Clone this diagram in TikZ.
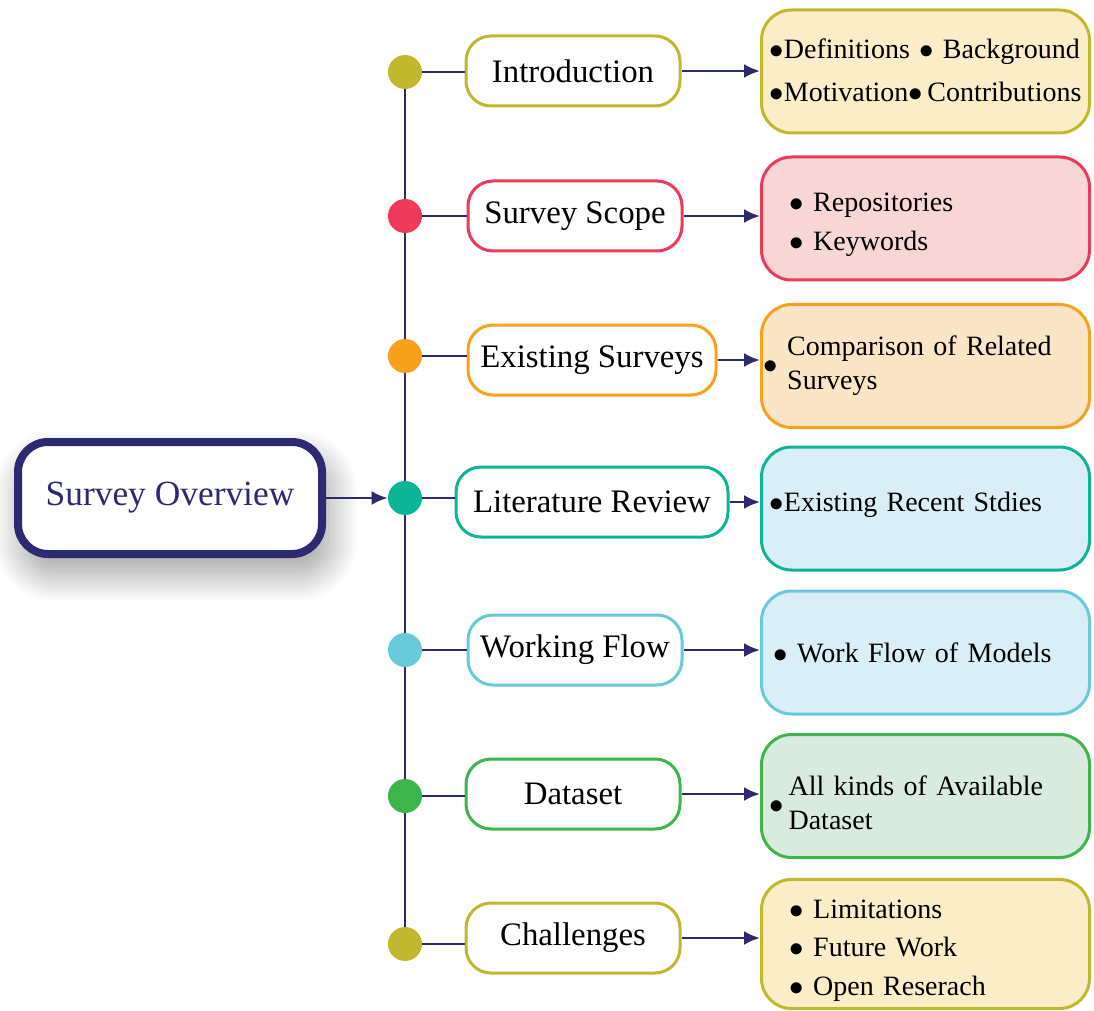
\documentclass[tikz,border=0pt]{standalone}
\usepackage{fontspec}
\setmainfont{Liberation Serif}
\usetikzlibrary{arrows.meta,shadows.blur,backgrounds}
\definecolor{navy}{RGB}{46,42,114}
\definecolor{olive}{RGB}{194,184,46}
\definecolor{rose}{RGB}{238,58,90}
\definecolor{amber}{RGB}{248,161,28}
\definecolor{teal}{RGB}{14,180,150}
\definecolor{sky}{RGB}{104,201,216}
\definecolor{leaf}{RGB}{62,181,74}
\definecolor{cream}{RGB}{250,237,200}
\definecolor{blush}{RGB}{248,214,214}
\definecolor{peach}{RGB}{251,229,199}
\definecolor{ice}{RGB}{217,238,246}
\definecolor{mint}{RGB}{216,235,222}
\newcommand{\bul}{$\bullet$}
\newcommand{\lines}[1]{\begin{tabular}{@{}l@{}}#1\end{tabular}}
\newcommand{\sinkby}[2]{\raisebox{-#1}[\height][\depth]{#2}}
\tikzset{
  mainbox/.style={draw=navy,line width=4pt,rounded corners=15pt,fill=white,
    minimum width=152pt,minimum height=56pt,text=navy,
    font=\fontsize{17.7}{21}\selectfont,
    blur shadow={shadow xshift=3pt,shadow yshift=-9pt,shadow blur radius=15pt,
      shadow blur steps=30,shadow opacity=40}},
  dot/.style={circle,fill=#1,minimum size=17pt,inner sep=0pt},
  topic/.style={draw=#1,line width=1.5pt,rounded corners=12.5pt,fill=white,
    minimum height=35pt,font=\fontsize{16.4}{20}\selectfont},
  detail/.style 2 args={draw=#1,fill=#2,line width=1.5pt,rounded corners=15pt,
    minimum height=61.5pt,text width=156pt,inner xsep=4pt,align=left,anchor=west,
    font=\fontsize{14}{17}\selectfont},
  link/.style={navy,line width=1.25pt},
  arr/.style={link,-{Latex[length=8pt,width=7pt]}}
}
\begin{document}
\begin{tikzpicture}[x=0.5pt,y=-0.5pt]
\useasboundingbox (0,0) rectangle (1094,1011);
% root
\node[mainbox] (overview) at (170,498) {Survey Overview};
% spine dots
\node[dot=olive] (d1) at (405,72) {};
\node[dot=rose] (d2) at (405,216) {};
\node[dot=amber] (d3) at (405,356) {};
\node[dot=teal] (d4) at (405,498) {};
\node[dot=sky] (d5) at (405,650) {};
\node[dot=leaf] (d6) at (405,796) {};
\node[dot=olive] (d7) at (405,944) {};
\begin{scope}[on background layer]
\draw[link] (d1) -- (d7);
\end{scope}
\draw[arr] (overview.east) -- (d4.west);
% topics
\node[topic=olive,minimum width=107pt] (t1) at (573,71) {Introduction};
\node[topic=rose,minimum width=107pt] (t2) at (575,216) {Survey Scope};
\node[topic=amber,minimum width=124pt] (t3) at (592,360) {Existing Surveys};
\node[topic=teal,minimum width=136pt] (t4) at (592,502) {Literature Review};
\node[topic=sky,minimum width=107pt] (t5) at (575,650) {Working Flow};
\node[topic=leaf,minimum width=107pt] (t6) at (573,794) {Dataset};
\node[topic=olive,minimum width=107pt] (t7) at (573,938) {Challenges};
% details
\node[detail={olive}{cream},font=\fontsize{14}{21.5}\selectfont] (x1) at (760,71.5)
  {\lines{\bul Definitions \bul\ Background\\\bul Motivation\bul\,Contributions}};
\node[detail={rose}{blush},font=\fontsize{14}{19.5}\selectfont] (x2) at (760,218.5)
  {\sinkby{2.5pt}{\lines{\hspace*{10pt}\bul\ Repositories\\\hspace*{10pt}\bul\ Keywords}}};
\node[detail={amber}{peach}] (x3) at (760,366)
  {\hspace*{-3pt}\bul\ \lines{Comparison of Related\\Surveys}};
\node[detail={teal}{ice}] (x4) at (760,508.5) {\sinkby{-2pt}{\bul Existing Recent Stdies}};
\node[detail={sky}{ice}] (x5) at (760,652.5) {\hspace*{2pt}\bul\ Work Flow of Models};
\node[detail={leaf}{mint}] (x6) at (760,796)
  {\sinkby{5pt}{\bul\,\lines{All kinds of Available\\Dataset}}};
\node[detail={olive}{cream},font=\fontsize{14}{19.3}\selectfont] (x7) at (760,944)
  {\sinkby{2.5pt}{\lines{\hspace*{10pt}\bul\ Limitations\\\hspace*{10pt}\bul\ Future Work\\\hspace*{10pt}\bul\ Open Reserach}}};
% connectors
\draw[link] (d1.east) -- (d1.east -| t1.west);
\draw[link] (d2.east) -- (d2.east -| t2.west);
\draw[link] (d3.east) -- (d3.east -| t3.west);
\draw[link] (d4.east) -- (d4.east -| t4.west);
\draw[link] (d5.east) -- (d5.east -| t5.west);
\draw[link] (d6.east) -- (d6.east -| t6.west);
\draw[link] (d7.east) -- (d7.east -| t7.west);
\draw[arr] (t1.east) -- (t1.east -| x1.west);
\draw[arr] (t2.east) -- (t2.east -| x2.west);
\draw[arr] (t3.east) -- (t3.east -| x3.west);
\draw[arr] (t4.east) -- (t4.east -| x4.west);
\draw[arr] (t5.east) -- (t5.east -| x5.west);
\draw[arr] (t6.east) -- (t6.east -| x6.west);
\draw[arr] (t7.east) -- (t7.east -| x7.west);
\end{tikzpicture}
\end{document}
